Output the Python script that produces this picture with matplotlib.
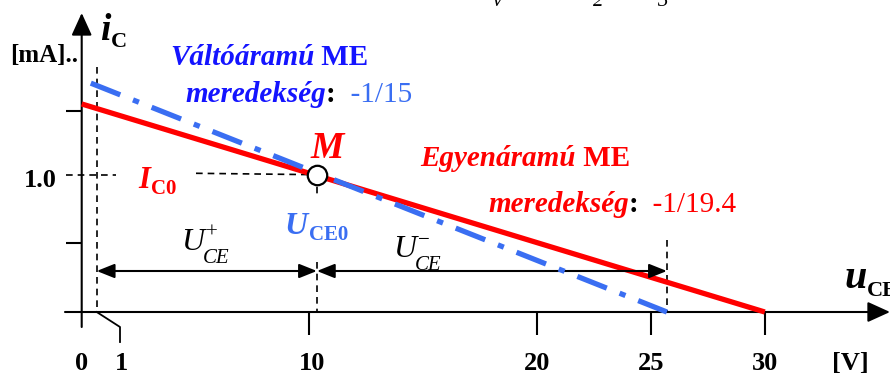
import matplotlib
matplotlib.use("Agg")
import matplotlib.pyplot as plt
from matplotlib.patches import ArrowStyle

plt.rcParams['font.family'] = ['Liberation Serif', 'DejaVu Serif']

# munkaegyenesek (u_CE [V], i_C [mA])
u_egyen = [0, 30]
i_egyen = [1.50, 0]
u_valto = [0.40, 25.7]
i_valto = [1.65, 0]

# munkapont
M_u, M_i = 10.33, 0.99
# a kivezerelhetoseg hatarai
u_also, u_felso = 0.66, 25.7

x_ticks = [10, 20, 25, 30]
x_labels = ["0", "1", "10", "20", "25", "30"]
x_label_pos = [0, 1.76, 10.1, 20, 25, 30]
y_ticks = [0.5, 1.45]

PIROS = "#ff0000"
KEK = "#3a6ef2"
SOTETKEK = "#1414ff"


# pixel -> adat (csak a szovegek elhelyezesehez)
def X(px):
    return (px - 81.7) / 22.77


def Y(py):
    return (312 - py) / 138.7


fig = plt.figure(figsize=(8.9, 3.74), dpi=100)
ax = fig.add_axes([0, 0, 1, 1])
ax.set_xlim(X(0), X(890))
ax.set_ylim(Y(374), Y(0))
ax.axis("off")

# tengelyek
nyil = ArrowStyle("-|>", head_length=0.55, head_width=0.25)
ax.annotate("", xy=(0, Y(13)), xytext=(0, Y(327)), annotation_clip=False,
            arrowprops=dict(arrowstyle=nyil, mutation_scale=25, color="k", lw=1.5,
                            shrinkA=0, shrinkB=0))
ax.annotate("", xy=(X(890), 0), xytext=(X(65), 0), annotation_clip=False,
            arrowprops=dict(arrowstyle=nyil, mutation_scale=25, color="k", lw=1.5,
                            shrinkA=0, shrinkB=0))

for t in x_ticks:
    ax.plot([t, t], [0, Y(335)], color="k", lw=1.5, solid_capstyle="butt")
for t in y_ticks:
    ax.plot([X(66), 0], [t, t], color="k", lw=1.5, solid_capstyle="butt")
# az "1" jelolese
ax.plot([u_also, X(120), X(120)], [0, Y(327), Y(342)], color="k", lw=1.3)

# szaggatott segedvonalak
sz = dict(color="k", lw=1.2, dashes=(4, 3))
ax.plot([u_also, u_also], [Y(67), 0], **sz)
ax.plot([X(66), X(116)], [M_i, M_i], **sz)
ax.plot([X(196), M_u], [1.0, M_i], **sz)
ax.plot([M_u, M_u], [M_i, Y(196)], **sz)
ax.plot([M_u, M_u], [Y(262), 0], **sz)
ax.plot([u_felso, u_felso], [Y(240), 0], **sz)

# munkaegyenesek
ax.plot(u_egyen, i_egyen, color=PIROS, lw=3.8, solid_capstyle="butt", zorder=3)
ax.plot(u_valto, i_valto, color=KEK, lw=3.8, dashes=(6, 2.6, 1.2, 2.6),
        dash_capstyle="butt", zorder=4)
ax.plot([M_u], [M_i], "o", ms=14, mfc="white", mec="k", mew=1.6, zorder=5)

# kettos nyilak
kettos = ArrowStyle("<|-|>", head_length=0.6, head_width=0.24)
for a, b in [(u_also, M_u), (M_u, u_felso)]:
    ax.annotate("", xy=(b, Y(271)), xytext=(a, Y(271)),
                arrowprops=dict(arrowstyle=kettos, mutation_scale=18, color="k", lw=1.5,
                                shrinkA=0, shrinkB=0))


def sor(x, y, reszek):
    """egymas utan irt szovegdarabok, (szoveg, stilus) parokbol"""
    elso, st = reszek[0]
    t = ax.text(x, y, elso, ha="left", va="baseline", **st)
    for szoveg, st in reszek[1:]:
        st = dict(st)
        dx = st.pop("dx", 0)
        dy = st.pop("dy", 0)
        t = ax.annotate(szoveg, xy=(1, 0), xycoords=t, xytext=(dx, dy),
                        textcoords="offset points", ha="left", va="bottom",
                        annotation_clip=False, **st)
    return t


bi = dict(fontweight="bold", fontstyle="italic")
b = dict(fontweight="bold")
F = 21

sor(X(10), Y(62), [("[mA]..", dict(b, fontsize=18))])
sor(X(100), Y(40), [("i", dict(bi, fontsize=27)), ("C", dict(b, fontsize=16, dy=-3))])

sor(X(170), Y(65), [("Váltóáramú", dict(bi, fontsize=F, color=SOTETKEK)),
                    (" ME", dict(b, fontsize=F, color=SOTETKEK))])
sor(X(185), Y(102), [("meredekség", dict(bi, fontsize=F, color=SOTETKEK)),
                     (":", dict(b, fontsize=F, color="k")),
                     ("  -1/15", dict(fontsize=F, color=KEK))])

sor(X(311), Y(158), [("M", dict(bi, fontsize=27, color=PIROS))])
sor(X(420), Y(166), [("Egyenáramú", dict(bi, fontsize=F, color=PIROS)),
                     (" ME", dict(b, fontsize=F, color=PIROS))])
sor(X(488), Y(212), [("meredekség", dict(bi, fontsize=F, color=PIROS)),
                     (":", dict(b, fontsize=F, color="k")),
                     ("  -1/19.4", dict(fontsize=F, color=PIROS))])

sor(X(24), Y(187), [("1.0", dict(b, fontsize=19))])
sor(X(138), Y(188), [("I", dict(bi, fontsize=22, color=PIROS)),
                     ("C0", dict(b, fontsize=15, color=PIROS, dx=1, dy=-3))])
sor(X(284), Y(234), [("U", dict(bi, fontsize=23, color=KEK)),
                     ("CE0", dict(b, fontsize=15, color=KEK, dx=1, dy=-3))])

for x0, y0, jel in [(181, 250, "+"), (393, 257, "\u2212")]:
    u = ax.text(X(x0), Y(y0), "U", ha="left", va="baseline", fontstyle="italic",
                fontsize=23)
    ax.annotate("CE", xy=(1, 0), xycoords=u, xytext=(-1, -8), textcoords="offset points",
                ha="left", va="bottom", fontstyle="italic", fontsize=15)
    ax.annotate(jel, xy=(1, 1), xycoords=u, xytext=(1, 3), textcoords="offset points",
                ha="left", va="top", fontsize=15)

sor(X(845), Y(288), [("u", dict(bi, fontsize=29)), ("CE", dict(b, fontsize=16, dy=-3))])

for lbl, pos in zip(x_labels, x_label_pos):
    ax.text(pos, Y(370), lbl, ha="center", va="baseline", fontsize=19, fontweight="bold")
ax.text(X(850), Y(370), "[V]", ha="center", va="baseline", fontsize=19, fontweight="bold")

# a felette levo keplet levagott alja
for x0, s in [(497, "v"), (598, "2"), (662, "3")]:
    ax.text(X(x0), Y(6), s, ha="center", va="baseline", fontsize=15, fontstyle="italic")

fig.savefig("out.png", dpi=100)
